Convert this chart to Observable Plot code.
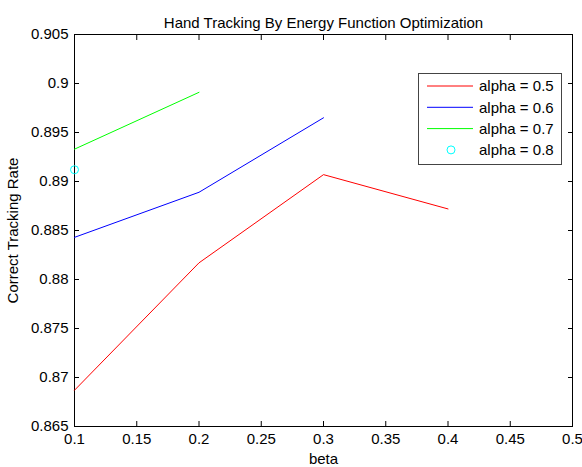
<!DOCTYPE html>
<html><head><meta charset="utf-8">
<script src="https://cdn.jsdelivr.net/npm/d3@7"></script>
<script src="https://cdn.jsdelivr.net/npm/@observablehq/plot@0.6"></script>
<style>body{margin:0;background:#fff} #chart svg{display:block}</style>
</head><body><div id="chart"></div>
<script>
const title = "Hand Tracking By Energy Function Optimization";
const xLabel = "beta";
const yLabel = "Correct Tracking Rate";
const xTicks = [0.1, 0.15, 0.2, 0.25, 0.3, 0.35, 0.4, 0.45, 0.5];
const xTickLabels = ["0.1", "0.15", "0.2", "0.25", "0.3", "0.35", "0.4", "0.45", "0.5"];
const yTicks = [0.865, 0.87, 0.875, 0.88, 0.885, 0.89, 0.895, 0.9, 0.905];
const yTickLabels = ["0.865", "0.87", "0.875", "0.88", "0.885", "0.89", "0.895", "0.9", "0.905"];
const seriesNames = ["alpha = 0.5", "alpha = 0.6", "alpha = 0.7", "alpha = 0.8"];
const seriesColors = ["#ff0000", "#0000ff", "#00ff00", "#00ffff"];
const beta05 = [0.1, 0.2, 0.3, 0.4];
const rate05 = [0.8687, 0.8817, 0.8907, 0.8872];
const beta06 = [0.1, 0.2, 0.3];
const rate06 = [0.8843, 0.8889, 0.8965];
const beta07 = [0.1, 0.2];
const rate07 = [0.8933, 0.8991];
const beta08 = [0.1];
const rate08 = [0.8912];

const lineRows = [];
[[beta05, rate05, 0], [beta06, rate06, 1], [beta07, rate07, 2]].forEach(([b, r, k]) =>
  b.forEach((v, i) => lineRows.push({beta: v, rate: r[i], series: seriesNames[k]})));
const dotRows = beta08.map((v, i) => ({beta: v, rate: rate08[i], series: seriesNames[3]}));

const font = "'Liberation Sans', Arial, sans-serif";
const chart = Plot.plot({
  width: 582, height: 467,
  marginLeft: 74, marginRight: 10, marginTop: 34, marginBottom: 41,
  style: {fontFamily: font, fontSize: "15px", color: "#000", background: "#fff"},
  x: {domain: [0.1, 0.5]},
  y: {domain: [0.865, 0.905]},
  color: {domain: seriesNames, range: seriesColors},
  marks: [
    Plot.axisX({ticks: xTicks, tickFormat: d => xTickLabels[xTicks.indexOf(d)], tickSize: -5, tickPadding: 12,
      label: xLabel, labelAnchor: "center", labelArrow: "none", labelOffset: 37}),
    Plot.axisX({anchor: "top", ticks: xTicks, tickFormat: () => "", tickSize: -5, label: null}),
    Plot.axisY({ticks: yTicks, tickFormat: d => yTickLabels[yTicks.indexOf(d)], tickSize: -5, tickPadding: 11,
      label: yLabel, labelAnchor: "center", labelArrow: "none", labelOffset: 67}),
    Plot.axisY({anchor: "right", ticks: yTicks, tickFormat: () => "", tickSize: -5, label: null}),
    Plot.frame({stroke: "#000"}),
    Plot.line(lineRows, {x: "beta", y: "rate", stroke: "series", z: "series", strokeWidth: 1}),
    Plot.dot(dotRows, {x: "beta", y: "rate", stroke: "series", r: 4, strokeWidth: 1}),
    Plot.text([title], {frameAnchor: "top", dy: -17, fontSize: 15, fill: "#000"})
  ]
});
document.getElementById("chart").appendChild(chart);

// legend inside the axes
const svg = d3.select(chart);
const lg = svg.append("g").attr("font-family", font).attr("font-size", 15).attr("text-anchor", "start");
lg.append("rect").attr("x", 418.5).attr("y", 73.5).attr("width", 143).attr("height", 91)
  .attr("fill", "#fff").attr("stroke", "#444");
seriesNames.forEach((name, i) => {
  const cy = 86 + i * 21.3;
  if (i < 3) {
    lg.append("line").attr("x1", 427).attr("x2", 473).attr("y1", cy).attr("y2", cy)
      .attr("stroke", seriesColors[i]).attr("stroke-width", 1);
  } else {
    lg.append("circle").attr("cx", 451).attr("cy", cy).attr("r", 4)
      .attr("fill", "none").attr("stroke", seriesColors[i]);
  }
  lg.append("text").attr("x", 479).attr("y", cy).attr("dy", "0.35em").attr("fill", "#000").text(name);
});
</script>
</body></html>
